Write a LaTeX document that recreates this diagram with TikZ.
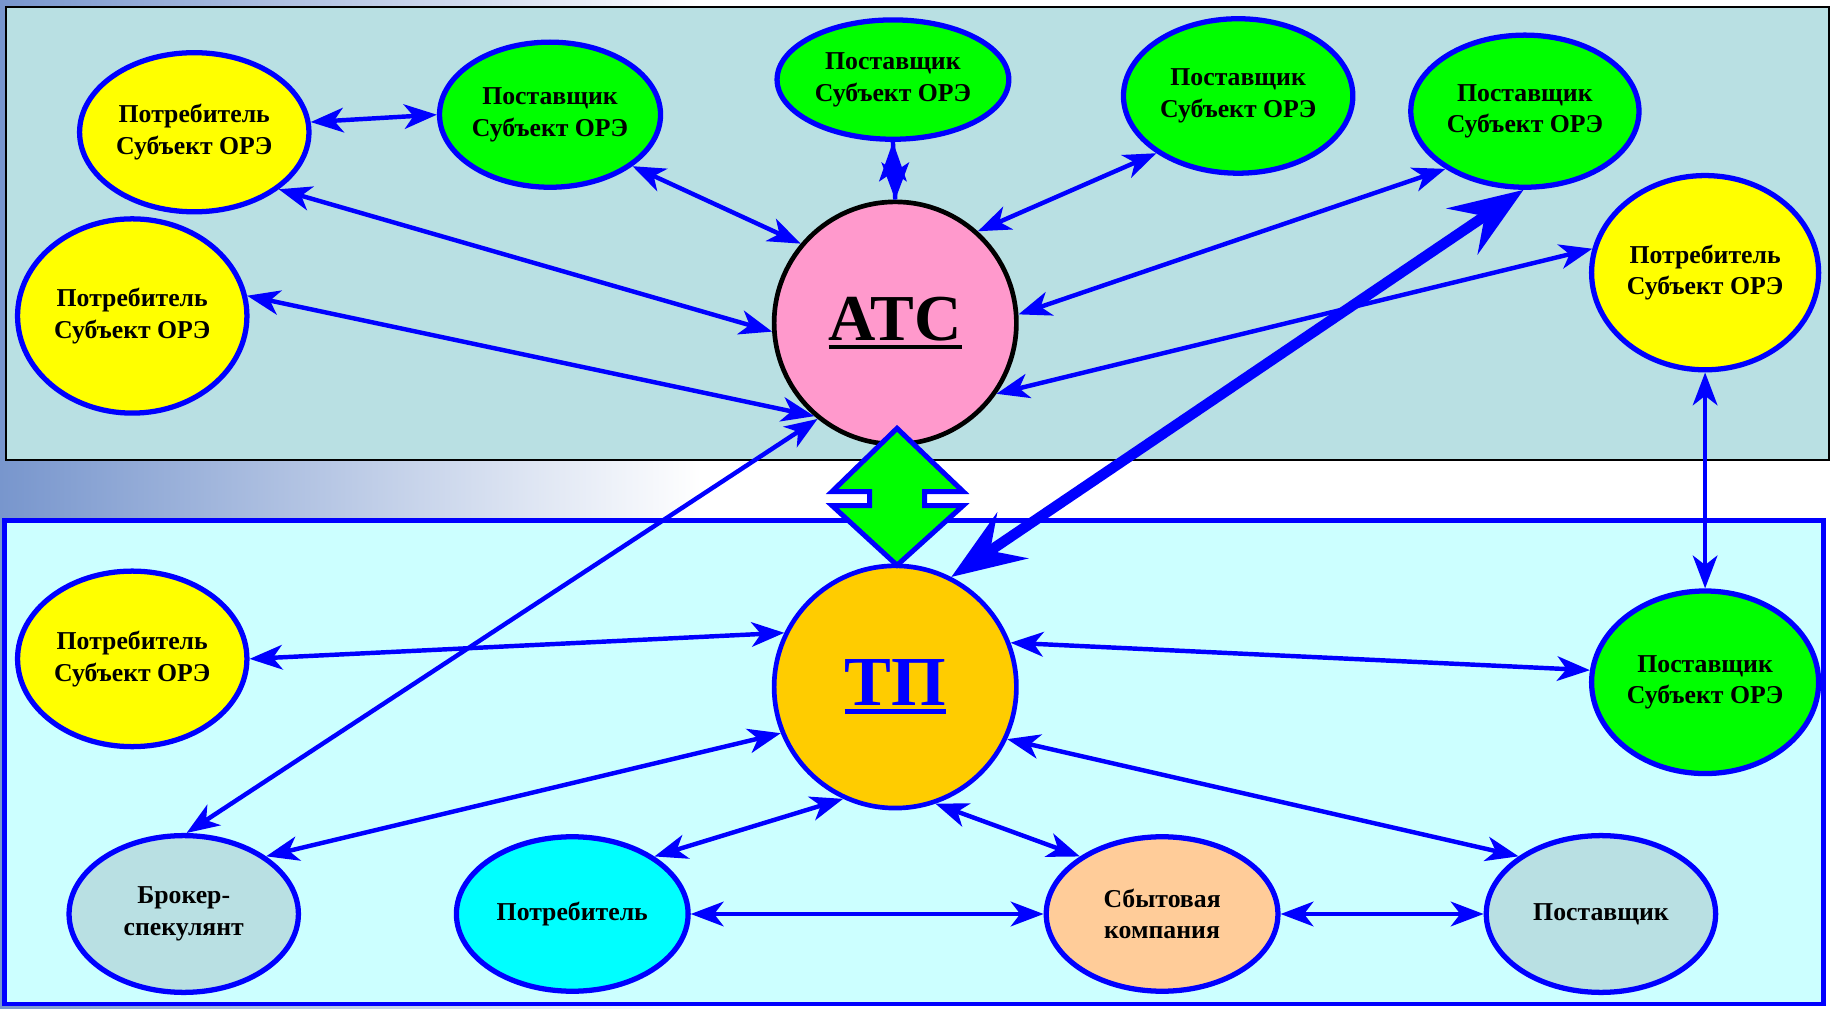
\documentclass[tikz,border=0pt]{standalone}
\usepackage{fontspec}
\setmainfont{Liberation Serif}
\usetikzlibrary{arrows.meta,shapes.geometric}
\definecolor{panelA}{RGB}{185,224,227}
\definecolor{panelB}{RGB}{204,255,255}
\definecolor{bgblue}{RGB}{120,150,205}
\definecolor{atcpink}{RGB}{255,153,204}
\definecolor{tporange}{RGB}{255,204,0}
\definecolor{sbpeach}{RGB}{255,204,153}
\definecolor{myyellow}{RGB}{255,255,0}
\definecolor{mygreen}{RGB}{0,255,0}
\definecolor{mycyan}{RGB}{0,255,255}
\definecolor{myblue}{RGB}{0,0,255}
\newcommand{\myuline}[2]{{\setbox0=\hbox{#2}\makebox[0pt][l]{\rule[-7pt]{\wd0}{#1}}\box0}}
\begin{document}
\begin{tikzpicture}[x=1pt,y=-1pt,
  ell/.style={ellipse, draw=myblue, line width=4.5pt, inner sep=0pt, align=center,
    text=black, font=\bfseries\fontsize{22}{27}\selectfont},
  conn/.style={myblue, line width=3.8pt,
    {Stealth[length=28pt,width=21pt,inset=8pt]}-{Stealth[length=28pt,width=21pt,inset=8pt]}},
  thick conn/.style={myblue, line width=9pt,
    {Stealth[length=63pt,width=47pt,inset=23pt]}-{Stealth[length=63pt,width=47pt,inset=23pt]}},
  bigcircle/.style={circle, inner sep=0pt, minimum size=207pt, line width=4pt},
]
\useasboundingbox (0,0) rectangle (1568,862);
% background
\shade[left color=bgblue, right color=white] (0,0) rectangle (600,862);
\fill[white] (599,0) rectangle (1568,862);
% panels
\draw[black, line width=2pt, fill=panelA] (5,6) rectangle (1563,393);
\draw[myblue, line width=4pt, fill=panelB] (4,445) rectangle (1558,858);

% top nodes
\node[ell, fill=myyellow, minimum width=196pt, minimum height=136pt] (E1) at (166,113) {Потребитель\\Субъект ОРЭ};
\node[ell, fill=mygreen, minimum width=186pt, minimum height=124pt] (E2) at (470,98) {Поставщик\\Субъект ОРЭ};
\node[ell, fill=mygreen, minimum width=198pt, minimum height=102pt] (E3) at (763,68) {Поставщик\\Субъект ОРЭ};
\node[ell, fill=mygreen, minimum width=196pt, minimum height=132pt] (E4) at (1058,82) {Поставщик\\Субъект ОРЭ};
\node[ell, fill=mygreen, minimum width=195pt, minimum height=130pt] (E5) at (1303,95) {Поставщик\\Субъект ОРЭ};
\node[ell, fill=myyellow, minimum width=194pt, minimum height=166pt] (E6) at (1457,233) {Потребитель\\Субъект ОРЭ};
\node[ell, fill=myyellow, minimum width=196pt, minimum height=166pt] (E7) at (113,270) {Потребитель\\Субъект ОРЭ};
\node[bigcircle, draw=black, fill=atcpink, font=\bfseries\fontsize{56}{60}\selectfont] (ATC) at (765,276) {\myuline{3.5pt}{АТС}};

% bottom nodes
\node[ell, fill=myyellow, minimum width=196pt, minimum height=150pt] (E8) at (113,563) {Потребитель\\Субъект ОРЭ};
\node[ell, fill=mygreen, minimum width=194pt, minimum height=156pt] (E9) at (1457,583) {Поставщик\\Субъект ОРЭ};
\node[ell, fill=panelA, minimum width=196pt, minimum height=134pt] (BR) at (157,781) {Брокер-\\спекулянт};
\node[ell, fill=mycyan, minimum width=198pt, minimum height=132pt] (CU) at (489,781) {Потребитель};
\node[ell, fill=sbpeach, minimum width=198pt, minimum height=132pt] (SB) at (993,781) {Сбытовая\\компания};
\node[ell, fill=panelA, minimum width=196pt, minimum height=134pt] (PS) at (1368,781) {Поставщик};
\node[bigcircle, draw=myblue, fill=tporange, text=myblue, font=\bfseries\fontsize{60}{64}\selectfont] (TP) at (765,587) {\myuline{4pt}{ТП}};

% diamond double arrow between ATC and TP
\draw[myblue, line width=4.3pt, fill=mygreen, line join=miter]
  (766.5,366) -- (823,420) -- (790,420) -- (790,432) -- (823,432) -- (766.5,483)
  -- (711,432) -- (743,432) -- (743,420) -- (711,420) -- cycle;

% top connectors
\draw[conn] (E1.5) -- (E2.180);
\draw[conn] (E1.-34) -- (ATC.184);
\draw[conn] (E2.-32) -- (ATC.140);
% short double arrow E3 <-> ATC (overlapping heads)
\draw[myblue, line width=3.8pt] (E3.south) -- (ATC.north);
\fill[myblue] (E3.south) -- ++(12,34) -- ++(-12,-8) -- ++(-12,8) -- cycle;
\fill[myblue] (ATC.north) -- ++(12,-32) -- ++(-12,8) -- ++(-12,-8) -- cycle;
\draw[conn] (E4.215) -- (ATC.48);
\draw[conn] (E5.216) -- (ATC.4);
\draw[conn] (E6.168) -- (ATC.-35);
\draw[conn] (E7.10) -- (ATC.229);
\draw[conn] (BR.88) -- (ATC.231);
\draw[conn] (E6.-90) -- (E9.90);

% bottom connectors
\draw[conn] (E8.0) -- (TP.154);
\draw[conn] (E9.174) -- (TP.21);
\draw[conn] (BR.35) -- (TP.202);
\draw[conn] (CU.35) -- (TP.245);
\draw[conn] (SB.145) -- (TP.-71);
\draw[conn] (PS.145) -- (TP.-25);
\draw[conn] (CU.0) -- (SB.180);
\draw[conn] (SB.0) -- (PS.180);

% thick arrow
\draw[thick conn] (TP.63) -- (E5.-91);
\end{tikzpicture}
\end{document}
